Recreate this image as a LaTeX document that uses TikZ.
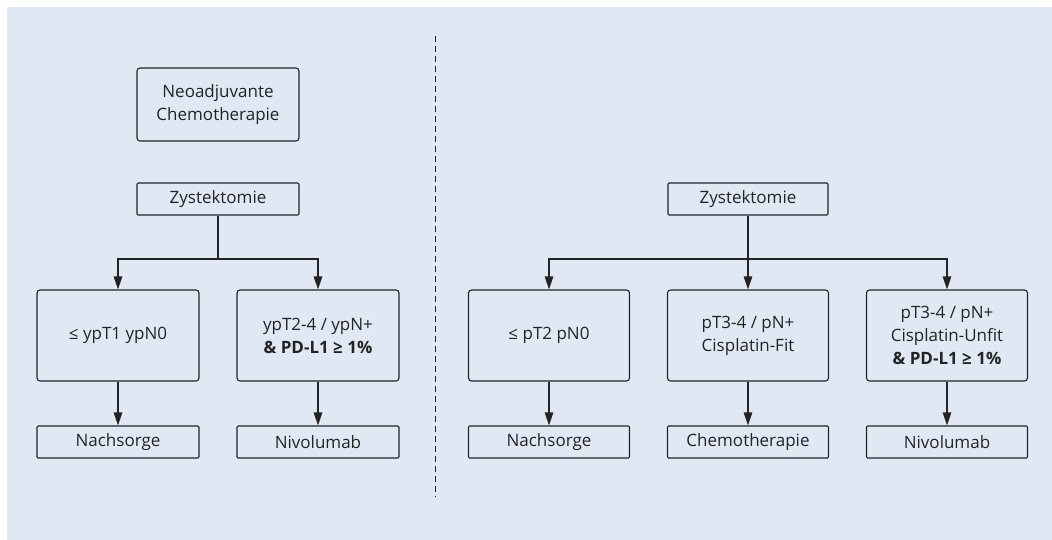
\documentclass[tikz,border=0pt]{standalone}
\usepackage{fontspec}
\setmainfont{Open Sans}
\usetikzlibrary{arrows.meta}
\definecolor{bgblue}{RGB}{224,233,243}
\definecolor{ink}{RGB}{35,35,35}
\begin{document}
\begin{tikzpicture}[x=1pt,y=-1pt,
  box/.style={draw=ink,line width=1.1pt,rounded corners=3pt,minimum width=161pt,minimum height=91pt,inner sep=0pt,align=center,font=\fontsize{17}{23}\selectfont,text=ink},
  tbox/.style={box,rounded corners=1.2pt,minimum height=32pt},
  conn/.style={draw=ink,line width=1.2pt},
  arr/.style={conn,-{Triangle[length=13pt,width=8.5pt]}}]
\useasboundingbox (0,0) rectangle (1052,540);
\fill[white] (0,0) rectangle (1052,540);
\fill[bgblue] (7,7) rectangle (1052,540);
\draw[ink,line width=1pt,dash pattern=on 6pt off 4pt] (435,36) -- (435,497);
% left
\node[box,minimum height=73pt,minimum width=162pt] (neo) at (218,104.5) {Neoadjuvante\\Chemotherapie};
\node[tbox,minimum width=162pt] (zL) at (218,199) {Zystektomie};
\node[box,minimum width=162pt] (a1) at (118,335.5) {≤ ypT1 ypN0};
\node[box,minimum width=162pt] (a2) at (318,335.5) {ypT2-4 / ypN+\\ \textbf{\& PD-L1 ≥ 1\%}};
\node[tbox,minimum width=162pt] (n1) at (118,442) {Nachsorge};
\node[tbox,minimum width=162pt] (n2) at (318,442) {Nivolumab};
\coordinate (jL) at (218,259);
\draw[conn] (zL.south) -- (jL);
\draw[arr] (jL) -| (a1.north);
\draw[arr] (jL) -| (a2.north);
\draw[arr] (a1.south) -- (n1.north);
\draw[arr] (a2.south) -- (n2.north);
% right
\node[tbox,minimum width=160pt] (zR) at (748,199) {Zystektomie};
\node[box] (b1) at (549,335.5) {≤ pT2 pN0};
\node[box] (b2) at (748,335.5) {pT3-4 / pN+\\Cisplatin-Fit};
\node[box] (b3) at (947,335.5) {pT3-4 / pN+\\Cisplatin-Unfit\\ \textbf{\& PD-L1 ≥ 1\%}};
\node[tbox] (m1) at (549,442) {Nachsorge};
\node[tbox] (m2) at (748,442) {Chemotherapie};
\node[tbox] (m3) at (947,442) {Nivolumab};
\coordinate (jR) at (748,259);
\draw[arr] (zR.south) -- (b2.north);
\draw[arr] (jR) -| (b1.north);
\draw[arr] (jR) -| (b3.north);
\draw[arr] (b1.south) -- (m1.north);
\draw[arr] (b2.south) -- (m2.north);
\draw[arr] (b3.south) -- (m3.north);
\end{tikzpicture}
\end{document}
